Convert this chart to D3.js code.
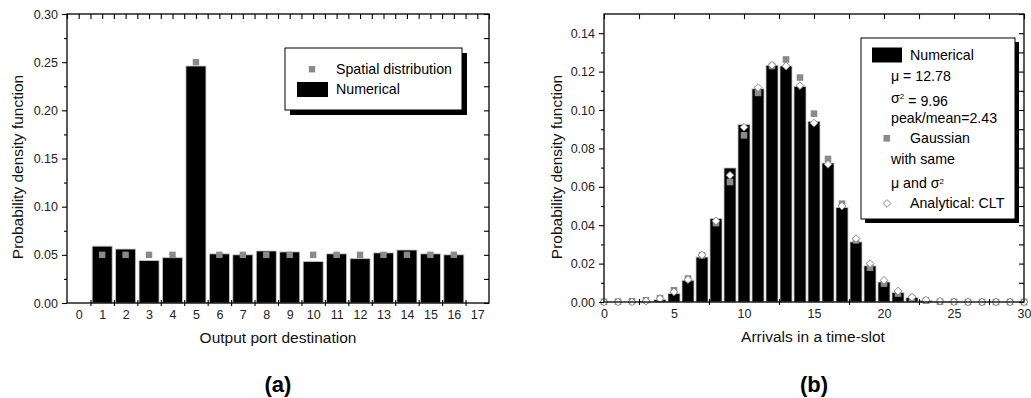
<!DOCTYPE html>
<html><head><meta charset="utf-8">
<script src="https://cdnjs.cloudflare.com/ajax/libs/d3/7.8.5/d3.min.js"></script>
<style>
body{margin:0;background:#fff;}
svg{display:block;font-family:"Liberation Sans",Arial,sans-serif;}
</style></head>
<body><svg id="c" width="1031" height="398"></svg>
<script>
// ---------- Data: panel (a) ----------
const ports = d3.range(0, 18);
const numericalA = [0, 0.059, 0.056, 0.044, 0.047, 0.246, 0.051, 0.050, 0.054, 0.053, 0.043, 0.051, 0.046, 0.052, 0.055, 0.051, 0.050, 0];
const spatialA = [null, 0.05, 0.05, 0.05, 0.05, 0.25, 0.05, 0.05, 0.05, 0.05, 0.05, 0.05, 0.05, 0.05, 0.05, 0.05, 0.05, null];
const yTicksA = [0, 0.05, 0.10, 0.15, 0.20, 0.25, 0.30];

// ---------- Data: panel (b) ----------
const arrivals = d3.range(0, 31);
const numericalB = [0, 0, 0, 0.0002, 0.0012, 0.0044, 0.0113, 0.0234, 0.0434, 0.0698, 0.0924, 0.1110, 0.1233, 0.1229, 0.1123, 0.0941, 0.0724, 0.0492, 0.0313, 0.0188, 0.0104, 0.0049, 0.0023, 0.0008, 0.0003, 0.0001, 0, 0, 0, 0, 0];
const gaussianB = [0.0001, 0.0002, 0.0004, 0.0009, 0.0020, 0.0061, 0.0122, 0.0243, 0.0411, 0.0625, 0.0868, 0.1089, 0.1229, 0.1263, 0.1169, 0.0981, 0.0745, 0.0512, 0.0321, 0.0179, 0.0096, 0.0044, 0.0018, 0.0007, 0.0002, 0.0001, 0, 0, 0, 0, 0];
const cltB = [0, 0, 0.0001, 0.0005, 0.0018, 0.0053, 0.0117, 0.0245, 0.0422, 0.0660, 0.0910, 0.1117, 0.1233, 0.1229, 0.1127, 0.0932, 0.0717, 0.0500, 0.0330, 0.0200, 0.0113, 0.0057, 0.0026, 0.0010, 0.0004, 0.0001, 0, 0, 0, 0, 0];
const xTicksB = [0, 5, 10, 15, 20, 25, 30];
const yTicksB = [0, 0.02, 0.04, 0.06, 0.08, 0.10, 0.12, 0.14];

const svg = d3.select("#c");
const GRAY = "#8a8a8a";
const TICKFONT = 12.5;
const TITLEFONT = 15.5;
const LEGFONT = 14.2;

function frame(g, x0, x1, y0, y1) {
  g.append("rect").attr("x", x0).attr("y", y0).attr("width", x1 - x0).attr("height", y1 - y0)
    .attr("fill", "none").attr("stroke", "#000").attr("stroke-width", 1.3);
}
function styleAxis(sel) {
  sel.select(".domain").remove();
  sel.selectAll("line").attr("stroke", "#000").attr("stroke-width", 1.1);
  sel.selectAll("text").attr("font-size", TICKFONT).attr("fill", "#222").attr("font-family", "Liberation Sans, Arial, sans-serif");
}

// ================= Panel (a) =================
{
  const x = d3.scaleLinear().domain([-0.5, 17.5]).range([67, 489]);
  const y = d3.scaleLinear().domain([0, 0.30]).range([303, 14]);
  const g = svg.append("g");
  const bw = 20 / 23.44;

  g.selectAll("rect.bar").data(ports).join("rect").attr("class", "bar")
    .attr("x", d => x(d - bw / 2)).attr("width", x(bw) - x(0))
    .attr("y", d => y(numericalA[d])).attr("height", d => y(0) - y(numericalA[d]))
    .attr("fill", "#000").attr("stroke", "#c8c8c8").attr("stroke-width", 0.8);

  g.selectAll("rect.sp").data(ports.filter(d => spatialA[d] !== null)).join("rect").attr("class", "sp")
    .attr("x", d => x(d) - 3.2).attr("y", d => y(spatialA[d]) - 3.2).attr("width", 6.4).attr("height", 6.4)
    .attr("fill", GRAY);

  frame(g, 67, 489, 14, 303);

  g.append("g").attr("transform", "translate(67,0)")
    .call(d3.axisLeft(y).tickValues(yTicksA).tickSize(5).tickPadding(4).tickFormat(d3.format(".2f"))).call(styleAxis);
  g.append("g").attr("transform", "translate(67,0)")
    .call(d3.axisLeft(y).tickValues(d3.range(0.025, 0.3, 0.05)).tickSize(3).tickFormat("")).call(styleAxis);
  g.append("g").attr("transform", "translate(489,0)")
    .call(d3.axisLeft(y).tickValues(d3.range(0, 0.3001, 0.025)).tickSize(5).tickFormat("")).call(styleAxis);
  g.append("g").attr("transform", "translate(0,14)")
    .call(d3.axisBottom(x).tickValues(d3.range(-0.5, 17.51, 0.5)).tickSize(5).tickFormat("")).call(styleAxis);
  g.append("g").attr("transform", "translate(0,303)")
    .call(d3.axisBottom(x).tickValues(ports).tickSize(0).tickPadding(7).tickFormat(d3.format("d"))).call(styleAxis);
  g.append("g").attr("transform", "translate(0,306)")
    .call(d3.axisTop(x).tickValues(d3.range(0.5, 17, 1)).tickSize(6).tickFormat("")).call(styleAxis);

  g.append("text").attr("x", 278).attr("y", 343).attr("text-anchor", "middle").attr("font-size", TITLEFONT).attr("fill", "#111")
    .text("Output port destination");
  g.append("text").attr("transform", "translate(23,167) rotate(-90)").attr("text-anchor", "middle").attr("font-size", TITLEFONT).attr("fill", "#111")
    .text("Probability density function");
  g.append("text").attr("x", 278).attr("y", 392).attr("text-anchor", "middle").attr("font-size", 22).attr("font-weight", "bold")
    .text("(a)");

  const L = g.append("g");
  L.append("rect").attr("x", 290).attr("y", 53).attr("width", 177).attr("height", 62).attr("fill", "#000");
  L.append("rect").attr("x", 285).attr("y", 48).attr("width", 177).attr("height", 62).attr("fill", "#fff").attr("stroke", "#000").attr("stroke-width", 1);
  L.append("rect").attr("x", 308.8).attr("y", 66).attr("width", 6.4).attr("height", 6.4).attr("fill", GRAY);
  L.append("text").attr("x", 336).attr("y", 69).attr("dy", "0.35em").attr("font-size", LEGFONT).text("Spatial distribution");
  L.append("rect").attr("x", 297).attr("y", 82).attr("width", 31).attr("height", 15).attr("fill", "#000");
  L.append("text").attr("x", 336).attr("y", 89).attr("dy", "0.35em").attr("font-size", LEGFONT).text("Numerical");
}

// ================= Panel (b) =================
{
  const x = d3.scaleLinear().domain([0, 30]).range([604, 1024]);
  const y = d3.scaleLinear().domain([0, 0.15]).range([302, 14]);
  const g = svg.append("g");
  const bw = 12 / 14;

  g.selectAll("rect.bar").data(arrivals.filter(d => numericalB[d] > 0)).join("rect").attr("class", "bar")
    .attr("x", d => x(d - bw / 2)).attr("width", x(bw) - x(0))
    .attr("y", d => y(numericalB[d])).attr("height", d => y(0) - y(numericalB[d]))
    .attr("fill", "#000").attr("stroke", "#c8c8c8").attr("stroke-width", 0.8);

  g.selectAll("rect.ga").data(arrivals).join("rect").attr("class", "ga")
    .attr("x", d => x(d) - 3.3).attr("y", d => y(gaussianB[d]) - 3.3).attr("width", 6.6).attr("height", 6.6)
    .attr("fill", GRAY);

  const diamond = d3.symbol().type(d3.symbolDiamond2).size(38);
  g.selectAll("path.clt").data(arrivals).join("path").attr("class", "clt")
    .attr("transform", d => `translate(${x(d)},${y(cltB[d])})`).attr("d", diamond)
    .attr("fill", "#fff").attr("stroke", "#888").attr("stroke-width", 1);

  frame(g, 604, 1024, 14, 302);

  g.append("g").attr("transform", "translate(604,0)")
    .call(d3.axisLeft(y).tickValues(yTicksB).tickSize(5).tickPadding(4).tickFormat(d3.format(".2f"))).call(styleAxis);
  g.append("g").attr("transform", "translate(604,0)")
    .call(d3.axisLeft(y).tickValues(d3.range(0.01, 0.15, 0.02)).tickSize(3).tickFormat("")).call(styleAxis);
  g.append("g").attr("transform", "translate(1024,0)")
    .call(d3.axisLeft(y).tickValues(d3.range(0, 0.1501, 0.01)).tickSize(5).tickFormat("")).call(styleAxis);
  g.append("g").attr("transform", "translate(0,14)")
    .call(d3.axisBottom(x).tickValues(d3.range(0, 30.01, 2.5)).tickSize(5).tickFormat("")).call(styleAxis);
  g.append("g").attr("transform", "translate(0,302)")
    .call(d3.axisBottom(x).tickValues(xTicksB).tickSize(0).tickPadding(7).tickFormat(d3.format("d"))).call(styleAxis);
  g.append("g").attr("transform", "translate(0,305)")
    .call(d3.axisTop(x).tickValues(d3.range(2.5, 30, 5)).tickSize(6).tickFormat("")).call(styleAxis);

  g.append("text").attr("x", 813).attr("y", 342).attr("text-anchor", "middle").attr("font-size", TITLEFONT).attr("fill", "#111")
    .text("Arrivals in a time-slot");
  g.append("text").attr("transform", "translate(562,167) rotate(-90)").attr("text-anchor", "middle").attr("font-size", TITLEFONT).attr("fill", "#111")
    .text("Probability density function");
  g.append("text").attr("x", 814).attr("y", 392).attr("text-anchor", "middle").attr("font-size", 22).attr("font-weight", "bold")
    .text("(b)");

  const L = g.append("g");
  L.append("rect").attr("x", 865).attr("y", 42).attr("width", 154).attr("height", 181).attr("fill", "#000");
  L.append("rect").attr("x", 861).attr("y", 38).attr("width", 154).attr("height", 181).attr("fill", "#fff").attr("stroke", "#000").attr("stroke-width", 1);
  const fs = LEGFONT;
  L.append("rect").attr("x", 872).attr("y", 47.5).attr("width", 30).attr("height", 15).attr("fill", "#000");
  L.append("text").attr("x", 910).attr("y", 55).attr("dy", "0.35em").attr("font-size", fs).text("Numerical");
  L.append("text").attr("x", 891).attr("y", 76).attr("dy", "0.35em").attr("font-size", fs).text("μ = 12.78");
  const s2 = L.append("text").attr("x", 891).attr("y", 98).attr("dy", "0.35em").attr("font-size", fs);
  s2.append("tspan").text("σ");
  s2.append("tspan").attr("dy", "-0.55em").attr("font-size", 8).text("2");
  s2.append("tspan").attr("dy", "0.55em").text(" = 9.96");
  L.append("text").attr("x", 891).attr("y", 118.5).attr("dy", "0.35em").attr("font-size", fs).text("peak/mean=2.43");
  L.append("rect").attr("x", 883.5).attr("y", 135).attr("width", 6.6).attr("height", 6.6).attr("fill", GRAY);
  L.append("text").attr("x", 910).attr("y", 138.5).attr("dy", "0.35em").attr("font-size", fs).text("Gaussian");
  L.append("text").attr("x", 891).attr("y", 159.5).attr("dy", "0.35em").attr("font-size", fs).text("with same");
  const mu = L.append("text").attr("x", 891).attr("y", 183.5).attr("dy", "0.35em").attr("font-size", fs);
  mu.append("tspan").text("μ and σ");
  mu.append("tspan").attr("dy", "-0.6em").attr("font-size", 8).text("2");
  L.append("path").attr("transform", "translate(887,203.5)").attr("d", diamond)
    .attr("fill", "#fff").attr("stroke", "#888").attr("stroke-width", 1);
  L.append("text").attr("x", 910).attr("y", 203.5).attr("dy", "0.35em").attr("font-size", fs).text("Analytical: CLT");
}
</script></body></html>
